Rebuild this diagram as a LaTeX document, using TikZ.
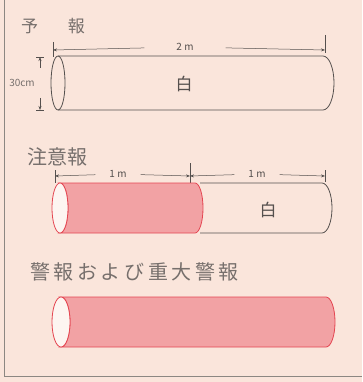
\documentclass[tikz,border=0pt]{standalone}
\usepackage{fontspec}
\usepackage{tikz}
\usetikzlibrary{positioning,arrows.meta}
\newfontfamily\jp{Noto Sans CJK JP}
\definecolor{paperbg}{RGB}{250,229,219}
\definecolor{framegray}{RGB}{140,135,130}
\definecolor{inkgray}{RGB}{85,80,78}
\definecolor{titlegray}{RGB}{118,111,108}
\definecolor{flagred}{RGB}{228,70,82}
\definecolor{flagfill}{RGB}{242,162,164}
\colorlet{facebg}{paperbg!40!white}

\begin{document}
\begin{tikzpicture}[x=1pt,y=-1pt,
    every node/.style={font=\jp, inner sep=1pt},
    title/.style={text=titlegray, font=\jp\fontsize{20}{20}\selectfont, anchor=west},
    dimtext/.style={text=inkgray, font=\jp\fontsize{10}{10}\selectfont, fill=paperbg, inner ysep=2pt},
    dimline/.style={draw=inkgray, line width=0.5pt, -{Stealth[length=4pt,width=3pt]}},
    extline/.style={draw=inkgray, line width=0.5pt},
    tube/.style={draw=inkgray, line width=0.8pt},
    redtube/.style={draw=flagred, line width=0.8pt, fill=flagfill}]
  % paper and frame
  \fill[paperbg] (0,0) rectangle (362,382);
  \useasboundingbox (0,0) rectangle (362,382);
  \draw[framegray, line width=0.8pt] (4,0) -- (4,376) -- (362,376);

  % --- 予報 ---
  \node[title, font=\jp\fontsize{17}{17}\selectfont] (t1) at (20,26) {予\hspace{1.75em}報};
  \coordinate (e1l) at (53,50);
  \coordinate (e1r) at (325,50);
  \draw[extline] (53,42) -- (53,57);
  \draw[extline] (325,35) -- (325,53);
  \node[dimtext, inner xsep=32pt] (d1) at (185,47) {2 m};
  \draw[dimline] (d1) -- (e1l);
  \draw[dimline] (d1) -- (e1r);
  % white tube
  \draw[tube] (58,56) -- (323,56) arc[start angle=-90, end angle=90, x radius=11, y radius=27] -- (58,110);
  \draw[tube] (58,83) ellipse[x radius=7, y radius=27];
  \node[text=inkgray, font=\jp\fontsize{17}{17}\selectfont] (w1) at (184,84) {白};
  % tube diameter
  \node[text=titlegray, font=\jp\fontsize{10}{10}\selectfont, inner sep=0pt] (h1) at (22,83) {30cm};
  \coordinate (h1t) at (40,57);
  \coordinate (h1b) at (40,110);
  \draw[extline] (36,57) -- (44,57);
  \draw[extline] (36,110) -- (44,110);
  \draw[dimline] (40,68) -- (h1t);
  \draw[dimline] (40,98) -- (h1b);

  % --- 注意報 ---
  \node[title] (t2) at (26,157) {注意報};
  \coordinate (e2l) at (55,176);
  \coordinate (e2m) at (190,176);
  \coordinate (e2r) at (325,176);
  \draw[extline] (55,170) -- (55,183);
  \draw[extline] (190,163) -- (190,183);
  \draw[extline] (325,170) -- (325,182);
  \node[dimtext, inner xsep=14pt] (d2a) at (118,174) {1 m};
  \node[dimtext, inner xsep=14pt] (d2b) at (257,174) {1 m};
  \draw[dimline] (d2a) -- (e2l);
  \draw[dimline] (d2a) -- (e2m);
  \draw[dimline] (d2b) -- (e2m);
  \draw[dimline] (d2b) -- (e2r);
  % white half
  \draw[tube] (200,183) -- (322,183) arc[start angle=-90, end angle=90, x radius=10, y radius=25] -- (200,233);
  \node[text=inkgray, font=\jp\fontsize{17}{17}\selectfont] (w2) at (268,210) {白};
  % red half
  \draw[redtube] (60,183) -- (195,183) arc[start angle=-90, end angle=90, x radius=8, y radius=25] -- (60,233) arc[start angle=90, end angle=-90, x radius=8, y radius=25] -- cycle;
  \draw[draw=flagred, line width=0.8pt, fill=facebg] (60,208) ellipse[x radius=8, y radius=25];

  % --- 警報および重大警報 ---
  \node[title, font=\jp\fontsize{20}{20}\selectfont\addfontfeatures{LetterSpace=18}] (t3) at (29,272) {警報および重大警報};
  \draw[redtube] (61,297) -- (326,297) arc[start angle=-90, end angle=90, x radius=9, y radius=25] -- (61,347) arc[start angle=90, end angle=-90, x radius=9, y radius=25] -- cycle;
  \draw[draw=flagred, line width=0.8pt, fill=facebg] (61,322) ellipse[x radius=9, y radius=25];
\end{tikzpicture}
\end{document}
